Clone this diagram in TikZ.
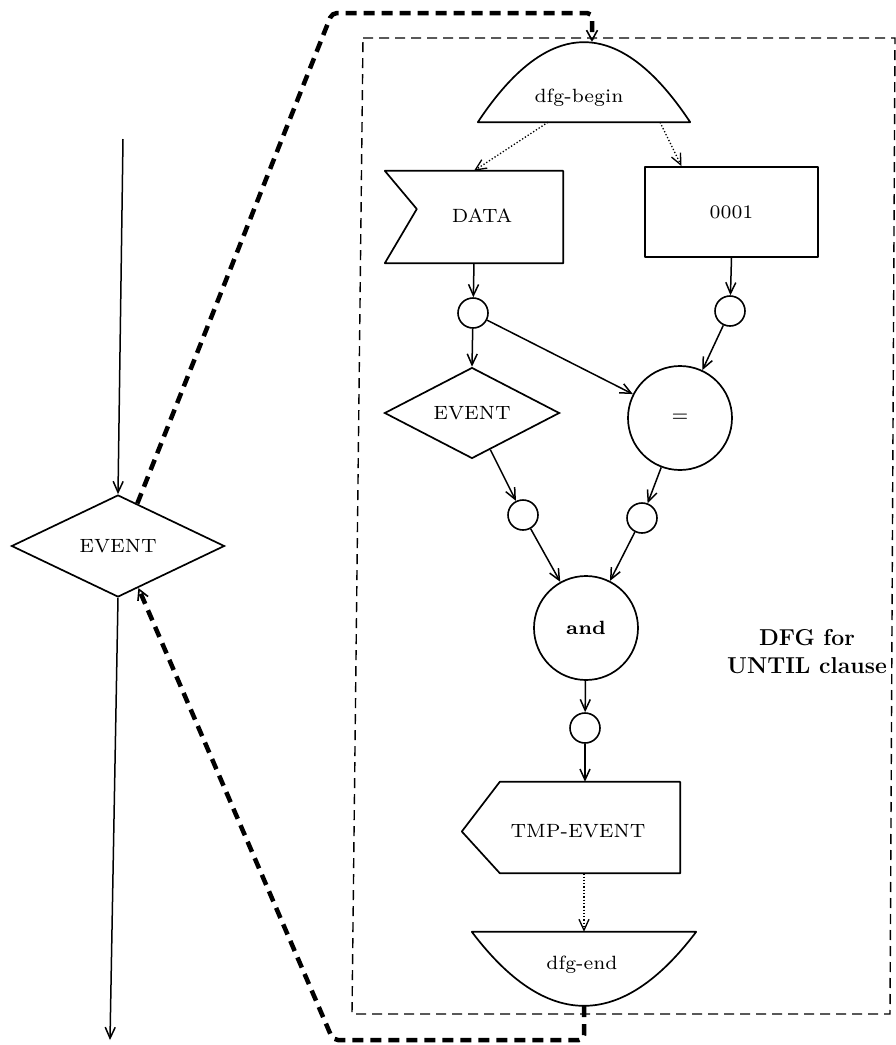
\documentclass[tikz,border=0pt]{standalone}
\usetikzlibrary{arrows.meta,shapes.geometric,calc}
% labels: small optical size scaled up, gives the wide letter forms
\newcommand\lt[1]{\scalebox{2.74}{\fontsize{7}{8}\selectfont #1}}
\begin{document}
\begin{tikzpicture}[x=1pt,y=-1pt,
  lbl/.style={inner sep=0pt},
  area/.style={inner sep=0pt},
  outl/.style={line width=1.7pt, line join=round},
  conn/.style={line width=1.5pt, -{Straight Barb[length=11pt,width=10pt]}},
  dotconn/.style={line width=1.3pt, dotted, -{Straight Barb[length=11pt,width=10pt]}},
  dotc/.style={circle, draw, line width=1.6pt, minimum size=30pt, inner sep=0pt},
  bigc/.style={circle, draw, line width=1.7pt, minimum size=104pt, inner sep=0pt},
  diam/.style={diamond, draw, line width=1.7pt, inner sep=0pt},
  frame/.style={line width=1.4pt, dash pattern=on 10pt off 6pt},
  jump/.style={line width=4.5pt, dash pattern=on 11pt off 7pt, rounded corners=5pt,
    -{Straight Barb[length=10pt,width=11pt,line width'=1.6pt]}}]
\useasboundingbox (0,0) rectangle (896,1045);

% ---------- outer flow ----------
\coordinate (in) at (123,139);
\node[diam, minimum width=213pt, minimum height=102pt] (ev) at (118,546) {\lt{EVENT}};
\coordinate (out) at (110,1040);
\draw[conn] (in) -- (ev.north);
\draw[conn] (ev.south) -- (out);

% ---------- frame of the data-flow graph ----------
\draw[frame] (363,38) -- (895,38) -- (890,1014) -- (352,1014) -- cycle;

% dfg-begin (parabolic cap)
\node[area, minimum width=212pt, minimum height=80pt] (beg) at (584,82) {};
\draw[outl] (beg.south west) .. controls ($(beg.south west)+(70.7,-106.7)$)
  and ($(beg.south east)+(-70.7,-106.7)$) .. (beg.south east) -- cycle;
\node[lbl] (begt) at (579,98) {\lt{dfg-begin}};

% DATA
\node[area, minimum width=178pt, minimum height=92pt] (data) at (474,217) {};
\draw[outl] (data.north west) -- (data.north east) -- (data.south east)
  -- (data.south west) -- ($(data.west)+(32,-8)$) -- cycle;
\node[lbl] (datat) at (482,216) {\lt{DATA}};

% 0001
\node[draw, outl, inner sep=0pt, minimum width=173pt, minimum height=90pt] (one) at (731.5,212) {\lt{0001}};

% operators and taps
\node[dotc] (c1) at (473,313) {};
\node[dotc] (c2) at (730,311) {};
\node[diam, minimum width=175pt, minimum height=55pt] (evt) at (472,413) {\lt{EVENT}};
\node[bigc] (eq) at (680,418) {\lt{=}};
\node[dotc] (c3) at (523,515) {};
\node[dotc] (c4) at (642,518) {};
\node[bigc] (and) at (586,628) {\lt{\bfseries and}};
\node[dotc] (c5) at (585,728) {};

% TMP-EVENT
\node[area, minimum width=180pt, minimum height=91pt] (tmp) at (590,827.5) {};
\draw[outl] (tmp.north west) -- (tmp.north east) -- (tmp.south east)
  -- (tmp.south west) -- ($(tmp.west)+(-38,4)$) -- cycle;
\node[lbl] (tmpt) at (578,831) {\lt{TMP-EVENT}};

% dfg-end (parabolic bowl)
\node[area, minimum width=224pt, minimum height=74pt] (fin) at (584,969) {};
\draw[outl] (fin.north west) -- (fin.north east) .. controls ($(fin.north east)+(-74.7,98.7)$)
  and ($(fin.north west)+(74.7,98.7)$) .. (fin.north west) -- cycle;
\node[lbl] (fint) at (582,965) {\lt{dfg-end}};

% title
\node[font=\fontsize{23}{28}\selectfont\bfseries, align=center, inner sep=0pt] (ttl) at (807,652) {DFG for\\UNTIL clause};

% ---------- connectors ----------
\draw[dotconn] ($(beg.south)+(-36,0)$) -- (data.north);
\draw[dotconn] ($(beg.south)+(76,0)$) -- ($(one.north)+(-50,0)$);
\draw[conn] (data.south) -- (c1);
\draw[conn] (one.south) -- (c2);
\draw[conn] (c1) -- (evt.north);
\draw[conn] (c1) -- (eq);
\draw[conn] (c2) -- (eq);
\draw[conn] (evt) -- (c3);
\draw[conn] (eq) -- (c4);
\draw[conn] (c3) -- (and);
\draw[conn] (c4) -- (and);
\draw[conn] (and) -- (c5);
\draw[conn] (c5) -- (c5 |- tmp.north);
\draw[dotconn] (tmp.south -| fin.north) -- (fin.north);

% call into the graph and return from it
\coordinate (up1) at (332,13);
\coordinate (up2) at (592,13);
\coordinate (dn1) at (584,1040);
\coordinate (dn2) at (333,1040);
\draw[jump] ($(ev.north)!0.18!(ev.east)$) -- (up1) -- (up2) -- (up2 |- beg.north);
\draw[jump] (fin.south) -- (dn1) -- (dn2) -- ($(ev.south)!0.19!(ev.east)$);
\end{tikzpicture}
\end{document}
